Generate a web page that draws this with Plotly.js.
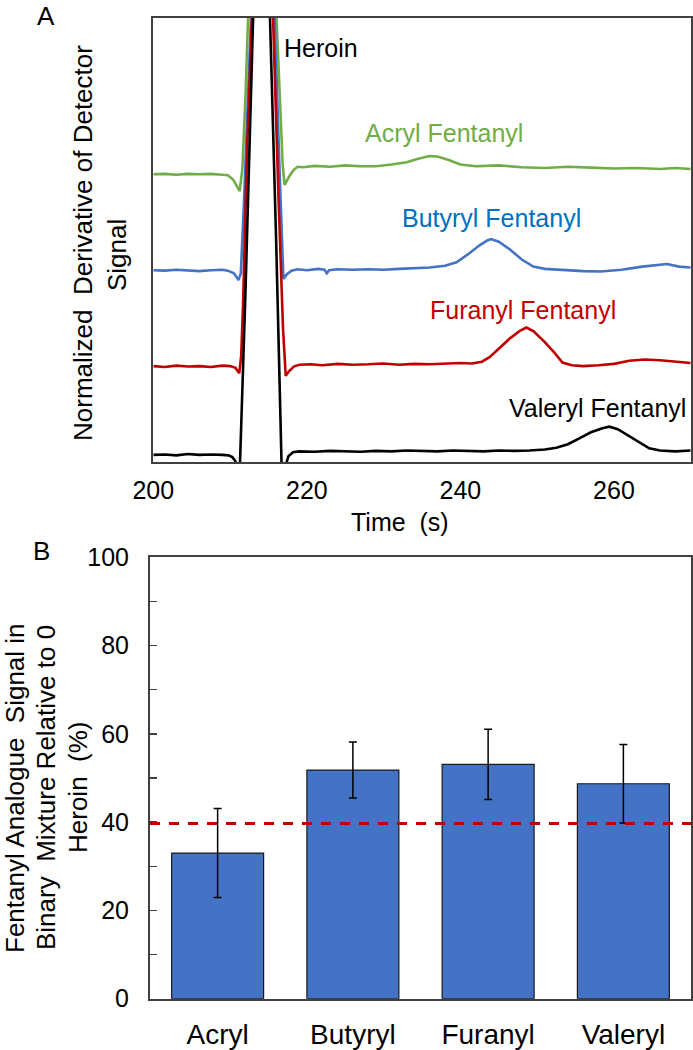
<!DOCTYPE html>
<html>
<head>
<meta charset="utf-8">
<script src="https://cdn.plot.ly/plotly-3.0.1.min.js"></script>
<style>html,body{margin:0;padding:0;background:#fff;}#chart{width:693px;height:1050px;}</style>
</head>
<body>
<div id="chart"></div>
<script>
// ---------- Panel A data (time in s, normalized derivative signal, arbitrary units) ----------
const timeAcryl = [200, 201.5, 203, 204.5, 206, 207.5, 209, 209.7, 210.4, 210.9, 211.25, 211.6, 212.0, 212.35, 213.2, 214.2, 215.2, 216.05, 216.5, 216.85, 217.1, 217.4, 217.8, 218.3, 218.8, 219.5, 221, 223, 225, 227, 229, 231, 233, 234.5, 236, 237, 238.5, 240, 242, 245, 248, 251, 254, 257, 260, 263, 266, 268, 270];
const sigAcryl  = [64.8, 64.9, 64.7, 64.9, 64.8, 64.9, 64.7, 64.6, 63.6, 62.0, 61.0, 66, 82, 100, 135, 150, 135, 100, 80, 67, 62.4, 63.4, 64.6, 65.8, 66.5, 66.4, 66.7, 66.5, 66.8, 66.6, 66.6, 67.0, 67.5, 68.3, 68.9, 68.8, 68.0, 67.0, 66.6, 66.8, 66.4, 66.2, 66.5, 66.3, 66.1, 66.2, 66.0, 66.2, 66.0];

const timeButyryl = [200, 201.5, 203, 204.5, 206, 207.5, 209, 209.7, 210.5, 211.1, 211.4, 211.8, 212.55, 213.5, 214.5, 215.8, 216.4, 216.95, 217.4, 218, 218.8, 220, 221.5, 222.3, 222.6, 222.9, 224, 226, 228, 230, 232, 234, 236, 238, 239.5, 241, 242.5, 243.5, 244.0, 245, 246.5, 248, 249.5, 251, 253.7, 256, 258.3, 261, 263.7, 265.5, 266.9, 268.5, 270];
const sigButyryl  = [43.2, 43.1, 43.3, 43.2, 43.0, 43.2, 43.3, 43.1, 42.5, 41.0, 42.5, 58, 100, 135, 135, 100, 68, 41.2, 42.3, 43.1, 43.4, 43.2, 43.5, 43.3, 42.5, 43.2, 43.4, 43.3, 43.4, 43.3, 43.5, 43.7, 43.8, 44.2, 45.0, 46.8, 48.8, 49.9, 50.2, 49.6, 47.8, 45.6, 44.0, 43.5, 43.2, 43.0, 42.9, 43.3, 44.0, 44.3, 44.6, 44.0, 43.8];

const timeFuranyl = [200, 201.5, 203, 204.5, 206, 207.5, 209, 210, 210.7, 211.2, 211.45, 211.7, 212.2, 212.7, 213.6, 214.6, 215.6, 216.3, 216.9, 217.25, 217.7, 218.3, 219, 220.5, 222, 224, 226, 228, 230, 232, 234, 236, 238, 240, 241.5, 242.8, 243.8, 245, 246.5, 247.8, 248.6, 249.5, 251, 252.3, 253.3, 254.5, 256, 258, 260, 262, 264, 266, 268, 270];
const sigFuranyl  = [21.6, 21.4, 21.7, 21.5, 21.6, 21.4, 21.7, 21.6, 21.2, 20.0, 24, 36, 70, 100, 135, 135, 100, 60, 30, 19.4, 20.5, 21.5, 21.9, 22.0, 21.8, 22.1, 21.9, 22.0, 22.2, 21.9, 22.1, 22.0, 22.1, 22.3, 22.2, 22.6, 23.6, 25.6, 27.9, 29.6, 30.3, 29.5, 27.0, 24.5, 22.4, 21.8, 21.6, 21.8, 22.1, 22.8, 23.1, 22.9, 22.6, 22.3];

const timeValeryl = [200, 201.5, 203, 204.5, 206, 207.5, 209, 209.8, 210.3, 210.7, 211.05, 211.3, 212.0, 213.0, 214.1, 215.2, 216.0, 216.7, 216.95, 217.2, 217.6, 218.2, 219, 221, 223, 225, 227, 229, 231, 233, 235, 237, 239, 241, 243, 245, 247, 249, 251, 252.5, 254, 255.5, 257, 258.5, 259.4, 260.5, 262, 263.5, 264.6, 266, 268, 270];
const sigValeryl  = [1.6, 1.7, 1.5, 1.8, 1.6, 1.7, 1.6, 1.5, 1.1, 0.2, -30, 0, 38, 100, 140, 100, 50, 0, -30, -1, 1.3, 2.2, 2.4, 2.3, 2.5, 2.4, 2.3, 2.5, 2.4, 2.6, 2.5, 2.4, 2.6, 2.5, 2.4, 2.6, 2.5, 2.6, 2.8, 3.2, 4.0, 5.3, 6.7, 7.6, 7.95, 7.4, 5.8, 4.2, 3.1, 2.6, 2.4, 2.6];

const timeTicks = [200, 220, 240, 260];

// ---------- Panel B data ----------
const analogues = ['Acryl', 'Butyryl', 'Furanyl', 'Valeryl'];
const signalPct = [33.0, 51.8, 53.1, 48.7];
const signalErr = [10.1, 6.35, 7.95, 8.9];
const heroinRef = 39.7;
const pctTicks = [0, 20, 40, 60, 80, 100];

// ---------- styling ----------
const FONT = '"Liberation Sans", Arial, Helvetica, sans-serif';
const W = 693, H = 1050;
const px = v => v / W;
const py = v => 1 - v / H;

const lineTrace = (t, s, color) => ({
  type: 'scatter', mode: 'lines', x: t, y: s, xaxis: 'x', yaxis: 'y',
  line: {color: color, width: 2.6}, hoverinfo: 'skip', showlegend: false
});

const data = [
  lineTrace(timeAcryl, sigAcryl, '#70AD47'),
  lineTrace(timeButyryl, sigButyryl, '#4472C4'),
  lineTrace(timeFuranyl, sigFuranyl, '#C00000'),
  lineTrace(timeValeryl, sigValeryl, '#000000'),
  {
    type: 'bar', x: analogues, y: signalPct, xaxis: 'x2', yaxis: 'y2',
    marker: {color: '#4472C4', line: {color: '#1a1a1a', width: 1.2}},
    error_y: {type: 'data', array: signalErr, visible: true, color: '#000000', thickness: 1.5, width: 4},
    showlegend: false, hoverinfo: 'skip'
  }
];

const labelA = (text, x, y, color) => ({
  text: text, x: x, y: y, xref: 'x', yref: 'y', showarrow: false,
  xanchor: 'center', yanchor: 'middle', font: {family: FONT, size: 25, color: color}
});
const paperText = (text, x, y, size, angle) => ({
  text: text, x: px(x), y: py(y), xref: 'paper', yref: 'paper', showarrow: false,
  xanchor: 'center', yanchor: 'middle', textangle: angle || 0,
  font: {family: FONT, size: size, color: '#000'}
});

const layout = {
  width: W, height: H,
  margin: {l: 0, r: 0, t: 0, b: 0},
  paper_bgcolor: '#fff', plot_bgcolor: '#fff',
  font: {family: FONT, color: '#000'},
  bargap: 0.32,
  xaxis: {
    domain: [px(153.3), px(690.7)], anchor: 'y', range: [200, 270],
    tickvals: timeTicks, ticks: '', showgrid: false, zeroline: false,
    showline: true, mirror: true, linecolor: '#404040', linewidth: 2,
    tickfont: {family: FONT, size: 25, color: '#000'}, ticklabelstandoff: 5
  },
  yaxis: {
    domain: [py(462), py(18)], anchor: 'x', range: [0, 100],
    showticklabels: false, ticks: '', showgrid: false, zeroline: false,
    showline: true, mirror: true, linecolor: '#404040', linewidth: 2
  },
  xaxis2: {
    domain: [px(150), px(691)], anchor: 'y2', type: 'category',
    ticks: '', showgrid: false, zeroline: false,
    showline: true, mirror: true, linecolor: '#404040', linewidth: 2,
    tickfont: {family: FONT, size: 28, color: '#000'}, ticklabelstandoff: 10
  },
  yaxis2: {
    domain: [py(998.7), py(557.3)], anchor: 'x2', range: [0, 100],
    tickvals: pctTicks, ticks: 'inside', ticklen: 7, tickwidth: 1.5, tickcolor: '#404040',
    minor: {dtick: 10, ticks: 'inside', ticklen: 7, tickwidth: 1.5, tickcolor: '#404040'},
    showgrid: false, zeroline: false,
    showline: true, mirror: true, linecolor: '#404040', linewidth: 2,
    tickfont: {family: FONT, size: 25, color: '#000'}, ticklabelstandoff: 14
  },
  shapes: [{
    type: 'line', xref: 'x2 domain', x0: 0, x1: 1, yref: 'y2', y0: heroinRef, y1: heroinRef,
    line: {color: '#C00000', width: 3, dash: '10px,9px'}, layer: 'above'
  }],
  annotations: [
    labelA('Heroin', 221.9, 93.2, '#000000'),
    labelA('Acryl Fentanyl', 237.9, 74.1, '#70AD47'),
    labelA('Butyryl Fentanyl', 244.0, 55.0, '#0070C0'),
    labelA('Furanyl Fentanyl', 248.2, 34.2, '#C00000'),
    labelA('Valeryl Fentanyl', 257.8, 12.2, '#000000'),
    paperText('A', 46, 16, 26),
    paperText('B', 41, 551, 26),
    paperText('Time\u00a0 (s)', 400, 522, 25),
    paperText('Normalized\u00a0 Derivative of Detector', 83, 243, 26, -90),
    paperText('Signal', 117, 255, 26, -90),
    paperText('Fentanyl Analogue\u00a0 Signal in', 15, 788, 26, -90),
    paperText('Binary\u00a0 Mixture Relative to 0', 46, 788, 26, -90),
    paperText('Heroin\u00a0 (%)', 78, 788, 26, -90)
  ]
};

Plotly.newPlot('chart', data, layout, {staticPlot: true, displayModeBar: false});
</script>
</body>
</html>
